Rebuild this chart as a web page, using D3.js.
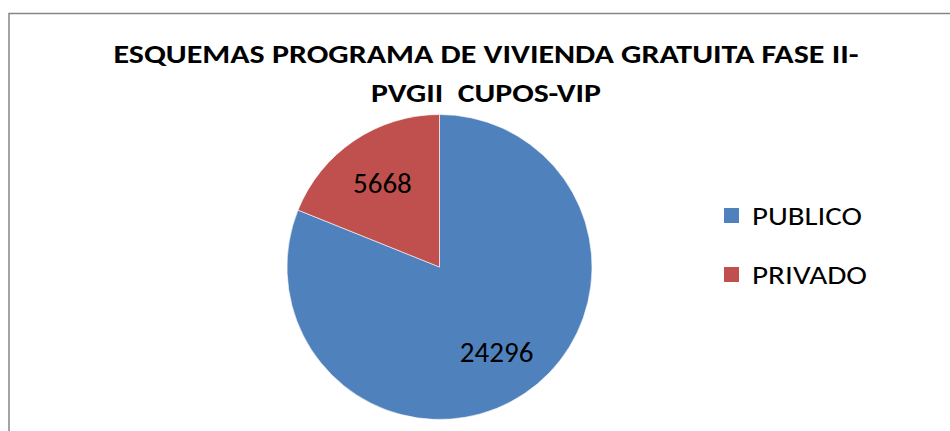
<!DOCTYPE html>
<html>
<head>
<meta charset="utf-8">
<script src="https://cdn.jsdelivr.net/npm/d3@7"></script>
<style>
  body { margin: 0; background: #fff; }
  svg text { font-family: Carlito, Calibri, Lato, sans-serif; white-space: pre; }
</style>
</head>
<body>
<div id="chart"></div>
<script>
// data
var categories = ['PUBLICO', 'PRIVADO'];
var values = [24296, 5668];
var colors = ['#4F81BD', '#C0504D'];
var titleLines = ['ESQUEMAS PROGRAMA DE VIVIENDA GRATUITA FASE II-', 'PVGII  CUPOS-VIP'];
var titleWidths = [745, 230];
var legendWidths = [110, 115];

var W = 950, H = 431;
var cx = 439.5, cy = 267, R = 152.5;

var svg = d3.select('#chart').append('svg')
    .attr('width', W)
    .attr('height', H);

// chart frame (runs off the right and bottom of the picture)
svg.append('rect')
    .attr('x', 9).attr('y', 13.5)
    .attr('width', W + 20).attr('height', H + 20)
    .attr('fill', '#fff')
    .attr('stroke', '#868686')
    .attr('stroke-width', 1.5);

// title
svg.append('g').selectAll('text')
    .data(titleLines)
    .enter().append('text')
    .attr('x', 486)
    .attr('y', function(d, i){ return 63 + i * 39; })
    .attr('text-anchor', 'middle')
    .attr('font-weight', 'bold')
    .attr('font-size', 26)
    .attr('textLength', function(d, i){ return titleWidths[i]; })
    .attr('lengthAdjust', 'spacingAndGlyphs')
    .attr('fill', '#000')
    .text(function(d){ return d; });

var rows = categories.map(function(c, i){ return {name: c, value: values[i], color: colors[i]}; });

var pie = d3.pie().sort(null).value(function(d){ return d.value; });
var arc = d3.arc().innerRadius(0).outerRadius(R);
var labelArc = d3.arc().innerRadius(102).outerRadius(102);

var g = svg.append('g').attr('transform', 'translate(' + cx + ',' + cy + ')');

g.selectAll('path')
    .data(pie(rows))
    .enter().append('path')
    .attr('d', arc)
    .attr('fill', function(d){ return d.data.color; })
    .attr('stroke', '#fff')
    .attr('stroke-width', 0.6);

g.selectAll('text.lbl')
    .data(pie(rows))
    .enter().append('text')
    .attr('class', 'lbl')
    .attr('transform', function(d){ return 'translate(' + labelArc.centroid(d) + ')'; })
    .attr('text-anchor', 'middle')
    .attr('dy', '0.35em')
    .attr('font-size', 29)
    .attr('fill', '#000')
    .text(function(d){ return d.data.value; });

// legend
var legend = svg.append('g').attr('transform', 'translate(724,208)');
var item = legend.selectAll('g')
    .data(rows)
    .enter().append('g')
    .attr('transform', function(d, i){ return 'translate(0,' + (i * 59) + ')'; });

item.append('rect')
    .attr('width', 15).attr('height', 15)
    .attr('fill', function(d){ return d.color; });

item.append('text')
    .attr('x', 28)
    .attr('y', 17)
    .attr('font-size', 26)
    .attr('textLength', function(d, i){ return legendWidths[i]; })
    .attr('lengthAdjust', 'spacingAndGlyphs')
    .attr('fill', '#000')
    .text(function(d){ return d.name; });
</script>
</body>
</html>
